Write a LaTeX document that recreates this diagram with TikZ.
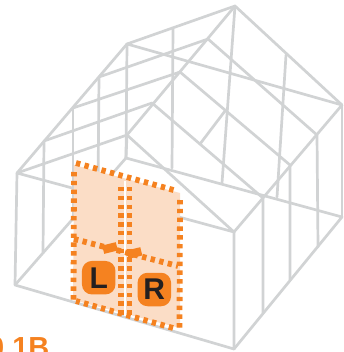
\documentclass[tikz,border=0pt]{standalone}
\usepackage{fontspec}
\setmainfont{Liberation Sans}
\definecolor{frame}{RGB}{209,211,212}
\definecolor{orng}{RGB}{245,130,32}
\definecolor{peach}{RGB}{251,221,198}
\definecolor{ink}{RGB}{35,31,32}
\tikzset{
  bar/.style={draw=frame,line width=2.7pt,line cap=round,line join=round},
  dots/.style={draw=orng,line width=5.8pt,dash pattern=on 4.4pt off 4.4pt},
  badge/.style={fill=orng,rounded corners=10pt,minimum size=33.5pt,inner sep=0pt,text=ink,font=\bfseries\fontsize{30}{30}\selectfont},
  grip/.style={fill=orng,minimum width=14pt,minimum height=8.5pt,inner sep=0pt,rotate=14},
  caption/.style={text=orng,font=\bfseries\fontsize{29}{29}\selectfont,inner sep=0pt,anchor=base west}
}
\begin{document}
\begin{tikzpicture}[x=1pt,y=-1pt]
\useasboundingbox (0,0) rectangle (343,352);
% frame key points
\coordinate (fl) at (17,173); \coordinate (flb) at (15,285);
\coordinate (fr) at (234,232); \coordinate (frb) at (234,349);
\coordinate (fa) at (127,135); \coordinate (ba) at (235,6);
\coordinate (bl) at (127,44); \coordinate (blb) at (126,158);
\coordinate (br) at (342,105); \coordinate (brb) at (342,217);
\coordinate (r1) at (152,103); \coordinate (r2) at (180,72); \coordinate (r3) at (208,39);
\coordinate (le1) at (44,141); \coordinate (le2) at (73,108); \coordinate (le3) at (99,77);
\coordinate (re1) at (263,198); \coordinate (re2) at (290,165); \coordinate (re3) at (317,135);
\draw[bar] (fl)--(flb)--(frb)--(fr)--cycle;
\draw[bar] (fl)--(fa)--(fr);
\draw[bar] (fl)--(bl)--(ba)--(br)--(fr);
\draw[bar] (fa)--(ba);
\draw[bar] (bl)--(br);
\draw[bar] (bl)--(blb);
\draw[bar] (fa)--(blb);
\draw[bar] (flb)--(blb)--(brb)--(frb);
\draw[bar] (br)--(brb);
\draw[bar] (ba)--(222,183);
\draw[bar] (173,29)--(172,168);
\draw[bar] (286,55)--(277,197);
\draw[bar] (le1)--(r1)--(re1)--(263,313);
\draw[bar] (le2)--(r2)--(re2)--(290,280);
\draw[bar] (le3)--(r3)--(re3)--(318,247);
\draw[bar] (le1)--(43,252);
\draw[bar] (le2)--(73,220);
\draw[bar] (le3)--(98,190);
\draw[bar] (225,111)--(200,144);
% door
\fill[peach] (74,165)--(180,193)--(180,328)--(73,300)--cycle;
\draw[white,line width=1.4pt] (125,181)--(125,316);
\draw[dots] (76,163)--(177,191);
\draw[dots] (180,200)--(179.5,329);
\draw[dots] (173,328)--(76,301);
\draw[dots] (74,172)--(73.5,300);
\draw[dots] (120.7,187)--(120.7,315);
\draw[dots] (129.4,187)--(129.4,317);
\draw[dots] (74,239)--(178,266);
\node[grip] (gl) at (110,248) {};
\node[grip] (gr) at (134.5,253) {};
\node[badge] (L) at (98.7,277.7) {L};
\node[badge] (R) at (154.3,289.5) {R};
\node[caption] (cap) at (-12,357) {0 1B};
\end{tikzpicture}
\end{document}
